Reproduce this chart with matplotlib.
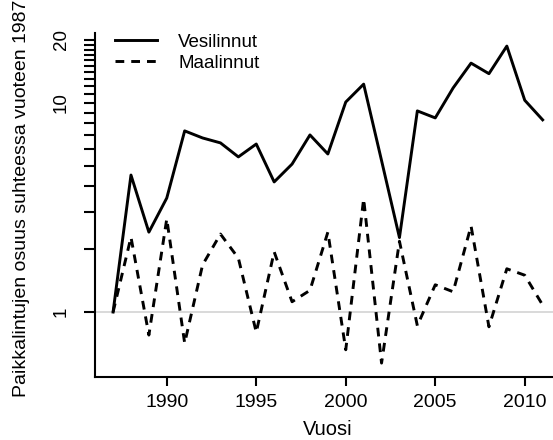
import numpy as np
import matplotlib
matplotlib.use("Agg")
import matplotlib.pyplot as plt
from matplotlib.ticker import FixedLocator, FixedFormatter, NullLocator

plt.rcParams['font.family'] = ['Liberation Sans', 'DejaVu Sans']

years = list(range(1987, 2012))
vesilinnut = [1.0, 4.52, 2.41, 3.51, 7.35, 6.8, 6.44, 5.52, 6.36, 4.19, 5.1, 7.03, 5.7,
              10.1, 12.3, 5.3, 2.27, 9.16, 8.48, 11.8, 15.5, 13.8, 18.7, 10.3, 8.3]
maalinnut = [1.0, 2.28, 0.776, 2.79, 0.71, 1.68, 2.36, 1.81, 0.80, 1.94, 1.12, 1.27, 2.41,
             0.66, 3.48, 0.57, 2.18, 0.86, 1.35, 1.25, 2.58, 0.85, 1.61, 1.50, 1.08]

y_ticks = list(range(1, 21))
y_labels = ["1" if t == 1 else "10" if t == 10 else "20" if t == 20 else "" for t in y_ticks]
x_ticks = [1990, 1995, 2000, 2005, 2010]

fig = plt.figure(figsize=(5.53, 4.40), dpi=100)
ax = fig.add_axes([95 / 553, 63 / 440, 465 / 553, 344 / 440])

ax.axhline(1, color="#d3d3d3", lw=1.2, zorder=1)
ax.plot(years, vesilinnut, color="black", lw=2.1, label="Vesilinnut", zorder=3)
ax.plot(years, maalinnut, color="black", lw=2.1, dashes=(3.0, 2.4), label="Maalinnut", zorder=3)

ax.set_yscale("log")
ax.set_xlim(1985.99, 2011.97)
ax.set_ylim(0.489, 21.6)

ax.yaxis.set_major_locator(FixedLocator(y_ticks))
ax.yaxis.set_major_formatter(FixedFormatter(y_labels))
ax.yaxis.set_minor_locator(NullLocator())
ax.set_xticks(x_ticks)
ax.set_xticklabels([str(x) for x in x_ticks])

for s in ["top", "right"]:
    ax.spines[s].set_visible(False)
for s in ["left", "bottom"]:
    ax.spines[s].set_linewidth(1.5)

ax.tick_params(axis="y", length=8, width=1.5, pad=10, labelsize=13.5, labelrotation=90)
ax.tick_params(axis="x", length=6.5, width=1.5, pad=5.5, labelsize=14)
for lab in ax.get_yticklabels():
    lab.set_va("center")

ax.set_xlabel("Vuosi", fontsize=14.5)
ax.set_ylabel("Paikkalintujen osuus suhteessa vuoteen 1987", fontsize=14)
ax.xaxis.set_label_coords(0.5, -0.126)
ax.yaxis.set_label_coords(-0.140, 0.52)

ax.legend(loc="upper left", bbox_to_anchor=(0.027, 1.02), frameon=False, fontsize=13.5,
          handlelength=2.24, handletextpad=1.12, labelspacing=0.2, borderaxespad=0.0)

fig.savefig("out.png", dpi=100)
